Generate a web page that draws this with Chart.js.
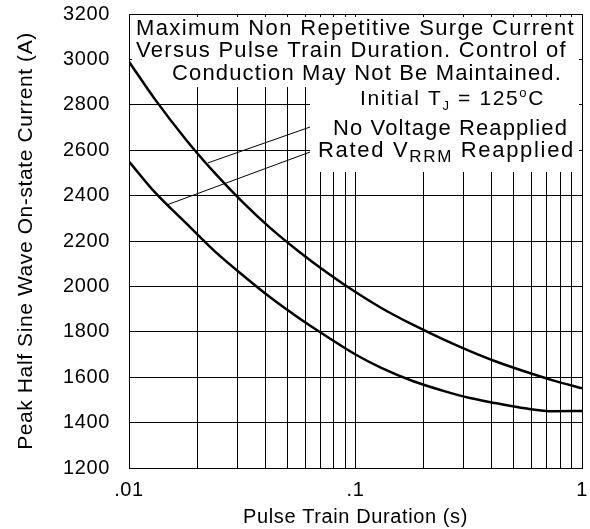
<!DOCTYPE html>
<html>
<head>
<meta charset="utf-8">
<script src="https://cdn.jsdelivr.net/npm/chart.js@4.4.0/dist/chart.umd.min.js"></script>
<style>
  body { margin: 0; background: #fff; }
  canvas { display: block; }
</style>
</head>
<body>
<canvas id="chart" width="590" height="529"></canvas>
<script>
// pulse train duration (s) and peak current (A)
const durations = [0.01, 0.013, 0.018, 0.024, 0.032, 0.042, 0.056, 0.075, 0.1,
                   0.13, 0.18, 0.24, 0.32, 0.42, 0.56, 0.75, 1];
const noVoltage = [2990, 2825, 2642, 2498, 2368, 2258, 2155, 2060, 1975,
                   1905, 1830, 1770, 1715, 1668, 1625, 1585, 1551];
const ratedVrrm = [2550, 2415, 2275, 2153, 2047, 1952, 1862, 1778, 1700,
                   1641, 1582, 1542, 1508, 1485, 1463, 1450, 1451];

// leader lines from the curves to the labels
const leaderNoX = [0.0223, 0.063];
const leaderNoY = [2544, 2702];
const leaderRatedX = [0.0147, 0.063];
const leaderRatedY = [2359, 2592];

const xTicks = [0.01, 0.02, 0.03, 0.04, 0.05, 0.06, 0.07, 0.08, 0.09,
                0.1, 0.2, 0.3, 0.4, 0.5, 0.6, 0.7, 0.8, 0.9, 1];
const xTickLabels = ['.01', '', '', '', '', '', '', '', '',
                     '.1', '', '', '', '', '', '', '', '', '1'];

const FONT = "'Liberation Sans', Arial, sans-serif";
Chart.defaults.font.family = FONT;
Chart.defaults.color = '#000';

function toPoints(xs, ys) {
    return xs.map((x, i) => ({ x: x, y: ys[i] }));
}

// text made of pieces [text, size, dy], spread out to fill a given width
function richText(ctx, x, y, width, parts) {
    ctx.letterSpacing = '0px';
    let natural = 0, chars = 0;
    for (const p of parts) {
        ctx.font = p[1] + 'px ' + FONT;
        natural += ctx.measureText(p[0]).width;
        chars += p[0].length;
    }
    const sp = (width - natural) / chars;
    for (const p of parts) {
        ctx.font = p[1] + 'px ' + FONT;
        ctx.letterSpacing = '0px';
        const w = ctx.measureText(p[0]).width;
        ctx.letterSpacing = sp + 'px';
        ctx.fillText(p[0], x, y + (p[2] || 0));
        x += w + sp * p[0].length;
    }
}

const annotations = {
    id: 'annotations',
    beforeDraw(chart) {
        chart.ctx.letterSpacing = '0.6px';
    },
    beforeDatasetsDraw(chart) {
        const { ctx, chartArea: a, scales } = chart;
        const y = scales.y;
        ctx.save();
        ctx.fillStyle = '#fff';
        ctx.fillRect(a.left + 3, a.top + 3, a.right - a.left - 6, 70);
        const boxLeft = a.left + 181;
        ctx.fillRect(boxLeft, a.top + 3, a.right - 3 - boxLeft, y.getPixelForValue(2500) - 1 - (a.top + 3));

        ctx.fillStyle = '#000';
        ctx.textBaseline = 'alphabetic';
        ctx.textAlign = 'left';
        richText(ctx, 136, 35, 439, [['Maximum Non Repetitive Surge Current', 22]]);
        richText(ctx, 136, 57, 431, [['Versus Pulse Train Duration. Control of', 22]]);
        richText(ctx, 172, 80, 390, [['Conduction May Not Be Maintained.', 22]]);
        richText(ctx, 360, 105, 185, [['Initial T', 21], ['J', 13, 5], [' = 125', 21], ['o', 13, -8], ['C', 21]]);
        richText(ctx, 333, 135, 235, [['No Voltage Reapplied', 22]]);
        richText(ctx, 318, 157, 257, [['Rated V', 22], ['RRM', 17, 5], [' Reapplied', 22]]);
        ctx.restore();
    },
    afterDraw(chart) {
        const { ctx, chartArea: a } = chart;
        ctx.save();
        ctx.strokeStyle = '#000';
        ctx.lineWidth = 1;
        ctx.strokeRect(Math.round(a.left) + 0.5, Math.round(a.top) + 0.5,
                       Math.round(a.right - a.left), Math.round(a.bottom - a.top));
        ctx.restore();
    }
};

const ctx = document.getElementById('chart').getContext('2d');
new Chart(ctx, {
    type: 'line',
    data: {
        datasets: [
            {
                label: 'No Voltage Reapplied',
                data: toPoints(durations, noVoltage),
                borderColor: '#000',
                borderWidth: 2.5,
                pointRadius: 0,
                cubicInterpolationMode: 'monotone',
                fill: false
            },
            {
                label: 'Rated VRRM Reapplied',
                data: toPoints(durations, ratedVrrm),
                borderColor: '#000',
                borderWidth: 2.5,
                pointRadius: 0,
                cubicInterpolationMode: 'monotone',
                fill: false
            },
            {
                label: 'leader 1',
                data: toPoints(leaderNoX, leaderNoY),
                borderColor: '#000',
                borderWidth: 1,
                pointRadius: 0
            },
            {
                label: 'leader 2',
                data: toPoints(leaderRatedX, leaderRatedY),
                borderColor: '#000',
                borderWidth: 1,
                pointRadius: 0
            }
        ]
    },
    options: {
        responsive: false,
        animation: false,
        layout: { padding: { top: 14, right: 8, left: 0, bottom: 0 } },
        plugins: {
            legend: { display: false },
            tooltip: { enabled: false }
        },
        scales: {
            x: {
                type: 'logarithmic',
                min: 0.01,
                max: 1,
                afterBuildTicks: (scale) => {
                    scale.ticks = xTicks.map(v => ({ value: v }));
                },
                afterFit: (scale) => {
                    scale.height = 61;
                    scale.paddingLeft = 0;
                    scale.paddingRight = 0;
                },
                ticks: {
                    autoSkip: false,
                    maxRotation: 0,
                    padding: 10,
                    font: { size: 20 },
                    callback: (value, index) => xTickLabels[index]
                },
                grid: { color: '#000', lineWidth: 1, drawTicks: false },
                border: { color: '#000', width: 1 },
                title: {
                    display: true,
                    text: 'Pulse Train Duration (s)',
                    font: { size: 20 },
                    padding: { top: 0, bottom: 0 }
                }
            },
            y: {
                min: 1200,
                max: 3200,
                afterFit: (scale) => {
                    scale.width = 129;
                    scale.paddingTop = 0;
                    scale.paddingBottom = 0;
                },
                ticks: {
                    stepSize: 100,
                    padding: 19,
                    font: { size: 20 },
                    callback: (value) => (value % 200 === 0 ? value : '')
                },
                grid: { color: '#000', lineWidth: 1, drawTicks: false },
                border: { color: '#000', width: 1 },
                title: {
                    display: true,
                    text: 'Peak Half Sine Wave On-state Current (A)',
                    font: { size: 21 },
                    padding: { top: 14, bottom: 0 }
                }
            }
        }
    },
    plugins: [annotations]
});
</script>
</body>
</html>
